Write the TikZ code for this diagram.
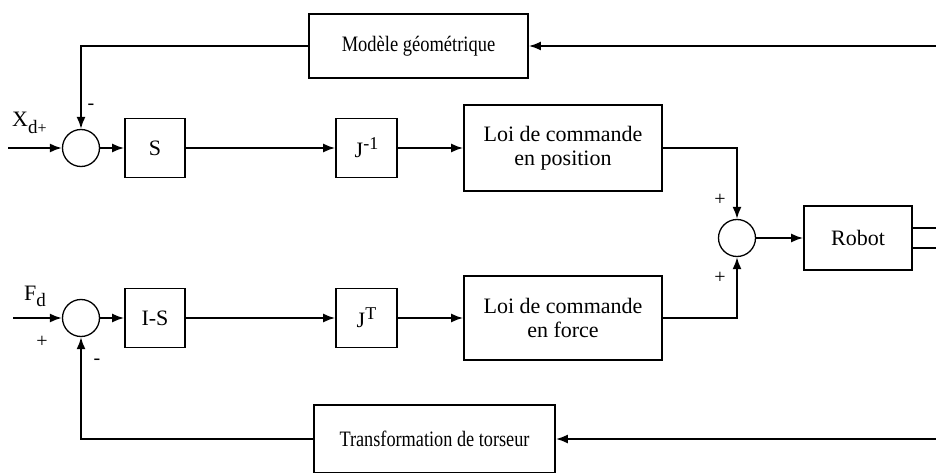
\documentclass[tikz,border=0pt]{standalone}
\usepackage{fontspec}
\setmainfont{Liberation Serif}
\usetikzlibrary{arrows.meta}
\begin{document}
\begin{tikzpicture}[x=1pt,y=-1pt,
  blk/.style={draw, line width=1.8pt, inner sep=0pt, align=center, font=\fontsize{22}{24}\selectfont},
  sumc/.style={draw, circle, line width=1.3pt, minimum size=37pt, inner sep=0pt},
  sig/.style={line width=1.8pt, -{Latex[length=12pt,width=9pt]}},
  wire/.style={line width=1.8pt},
  lbl/.style={font=\fontsize{22}{24}\selectfont, inner sep=0pt},
  sgn/.style={font=\fontsize{20}{20}\selectfont, inner sep=0pt}]
\useasboundingbox (0,0) rectangle (936,473);
% blocks
\node[blk, minimum width=219pt, minimum height=64pt] (mg) at (418.5,46) {\scalebox{0.84}[1]{Modèle géométrique}};
\node[sumc] (s1) at (81,148) {};
\node[blk, minimum width=60pt, minimum height=59pt] (S) at (155,148) {S};
\node[blk, minimum width=61pt, minimum height=59pt] (Ji) at (366.5,148) {J\raisebox{8pt}{\fontsize{18}{18}\selectfont -1}};
\node[blk, minimum width=198pt, minimum height=86pt] (lp) at (563,148) {Loi de commande\\en position};
\node[sumc] (s2) at (737,238) {};
\node[blk, minimum width=108pt, minimum height=64pt] (rob) at (858,238) {Robot};
\node[sumc] (s3) at (81,318) {};
\node[blk, minimum width=60pt, minimum height=59pt] (IS) at (155,318) {I-S};
\node[blk, minimum width=61pt, minimum height=59pt] (JT) at (366.5,318) {J\raisebox{8pt}{\fontsize{18}{18}\selectfont T}};
\node[blk, minimum width=198pt, minimum height=84pt] (lf) at (563,318) {Loi de commande\\en force};
\node[blk, minimum width=241pt, minimum height=68pt] (tt) at (434.5,439) {\scalebox{0.83}[1]{Transformation de torseur}};
% free ends
\coordinate (in1) at (8,148);
\coordinate (in3) at (13,318);
\coordinate (r1) at (936,228);
\coordinate (r2) at (936,248);
\coordinate (fbt) at (936,46);
\coordinate (fbb) at (936,439);
% connectors
\draw[sig] (in1) -- (s1);
\draw[sig] (s1) -- (S);
\draw[sig] (S) -- (Ji);
\draw[sig] (Ji) -- (lp);
\draw[sig] (lp.east) -| (s2.north);
\draw[sig] (in3) -- (s3);
\draw[sig] (s3) -- (IS);
\draw[sig] (IS) -- (JT);
\draw[sig] (JT) -- (lf);
\draw[sig] (lf.east) -| (s2.south);
\draw[sig] (s2) -- (rob);
\draw[wire] (rob.east |- r1) -- (r1);
\draw[wire] (rob.east |- r2) -- (r2);
\draw[sig] (fbt) -- (mg.east);
\draw[sig] (mg.west) -| (s1.north);
\draw[sig] (fbb) -- (tt.east);
\draw[sig] (tt.west) -| (s3.south);
% labels
\node[lbl, anchor=base west] (xd) at (12,127) {X\raisebox{-7pt}{\fontsize{19}{19}\selectfont d\fontsize{16}{16}\selectfont +}};
\node[lbl, anchor=base west] (fd) at (24,300) {F\raisebox{-6pt}{\fontsize{19}{19}\selectfont d}};
\node[sgn] (m1) at (91,107) {-};
\node[sgn] (p3) at (42,342) {+};
\node[sgn] (m3) at (97,362) {-};
\node[sgn] (p2a) at (720,200) {+};
\node[sgn] (p2b) at (720,278) {+};
\end{tikzpicture}
\end{document}
